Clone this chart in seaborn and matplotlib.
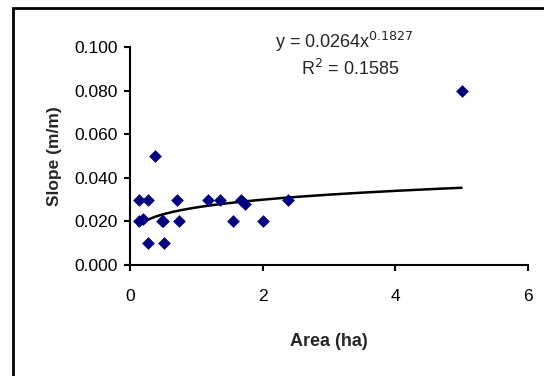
import numpy as np
import matplotlib
matplotlib.use('Agg')
import matplotlib.pyplot as plt
import seaborn as sns
from matplotlib.patches import Rectangle

# data
area = [0.13, 0.27, 0.13, 0.27, 0.38, 0.48, 0.51, 0.71, 0.74, 1.17,
        1.36, 1.55, 1.67, 1.73, 2.0, 2.38, 5.0, 0.2, 0.5]
slope = [0.030, 0.030, 0.020, 0.010, 0.050, 0.020, 0.010, 0.030, 0.020, 0.030,
         0.030, 0.020, 0.030, 0.028, 0.020, 0.030, 0.080, 0.021, 0.020]
coef_a = 0.0264
coef_b = 0.1827
x_ticks = [0, 2, 4, 6]
y_ticks = [0.0, 0.02, 0.04, 0.06, 0.08, 0.1]

sns.set_theme(style='white')
plt.rcParams['font.family'] = ['Liberation Sans', 'DejaVu Sans']

fig = plt.figure(figsize=(5.44, 3.76), dpi=100)
ax = fig.add_axes([130 / 544, 1 - 265 / 376, 398 / 544, 218 / 376])

sns.scatterplot(x=area, y=slope, ax=ax, marker='D', s=42, color='#000080',
                edgecolor='#000080', linewidth=0, zorder=3)

xs = np.linspace(min(area), max(area), 200)
ax.plot(xs, coef_a * xs ** coef_b, color='black', linewidth=1.8, zorder=2)

ax.set_xlim(0, 6)
ax.set_ylim(0, 0.1)
ax.set_xticks(x_ticks)
ax.set_yticks(y_ticks)
ax.set_xticklabels([str(t) for t in x_ticks])
ax.set_yticklabels([f'{t:.3f}' for t in y_ticks])
ax.tick_params(axis='both', direction='out', length=4, width=1.5, colors='black',
               labelsize=12.5, bottom=True, left=True)
ax.tick_params(axis='x', pad=13)
ax.tick_params(axis='y', pad=5)
for side in ['top', 'right']:
    ax.spines[side].set_visible(False)
for side in ['left', 'bottom']:
    ax.spines[side].set_color('black')
    ax.spines[side].set_linewidth(1.5)

ax.set_xlabel('Area (ha)', fontsize=13, fontweight='bold', labelpad=21)
ax.set_ylabel('Slope (m/m)', fontsize=12.5, fontweight='bold', labelpad=9)

ax.text(0.539, 0.995, r'y = 0.0264x$^{0.1827}$', transform=ax.transAxes,
        ha='center', va='baseline', fontsize=13)
ax.text(0.553, 0.872, r'R$^{2}$ = 0.1585', transform=ax.transAxes,
        ha='center', va='baseline', fontsize=13)

# outer chart frame (only left and top edges show)
fig.patches.append(Rectangle((13 / 544, -0.1), 1.2, 1 - 8 / 376 + 0.1,
                             transform=fig.transFigure, fill=False,
                             edgecolor='black', linewidth=2))

fig.savefig('out.png', dpi=100)
